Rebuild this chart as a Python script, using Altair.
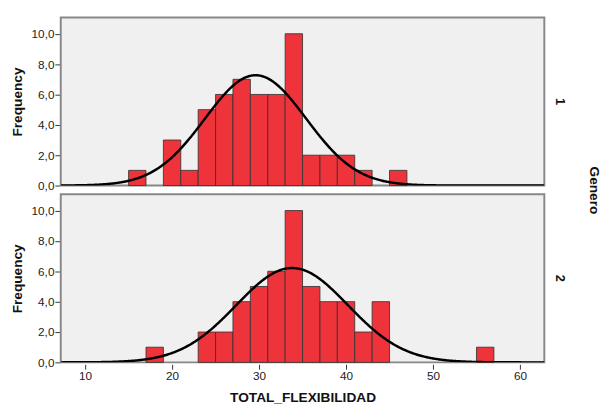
import altair as alt
import numpy as np
import pandas as pd

# Histogram bins (width 2)
genero_1_bins = [15, 19, 21, 23, 25, 27, 29, 31, 33, 35, 37, 39, 41, 45]
genero_1_counts = [1, 3, 1, 5, 6, 7, 6, 6, 10, 2, 2, 2, 1, 1]
genero_2_bins = [17, 23, 25, 27, 29, 31, 33, 35, 37, 39, 41, 43, 55]
genero_2_counts = [1, 2, 2, 4, 5, 6, 10, 5, 4, 4, 2, 4, 1]
bin_width = 2

# Normal curve parameters (mean, sd)
genero_1_norm = (29.6, 5.82)
genero_2_norm = (33.8, 6.42)

x_ticks = [10, 20, 30, 40, 50, 60]
y_ticks = [0, 2, 4, 6, 8, 10]
x_domain = [7.2, 62.8]
y_domain = [0, 11.07]

rows = []
for g, bins, counts, (m, s) in [
    ("1", genero_1_bins, genero_1_counts, genero_1_norm),
    ("2", genero_2_bins, genero_2_counts, genero_2_norm),
]:
    for b, c in zip(bins, counts):
        rows.append(dict(Genero=g, kind="bar", x=b, x2=b + bin_width, y=c))
    n = sum(counts)
    for xv in np.arange(x_domain[0], x_domain[1] + 0.01, 0.1):
        yv = n * bin_width * np.exp(-0.5 * ((xv - m) / s) ** 2) / (s * np.sqrt(2 * np.pi))
        rows.append(dict(Genero=g, kind="curve", x=float(xv), x2=None, y=float(yv)))
df = pd.DataFrame(rows)

xscale = alt.Scale(domain=x_domain, nice=False, zero=False)
yscale = alt.Scale(domain=y_domain, nice=False)

xaxis = alt.Axis(values=x_ticks, title="TOTAL_FLEXIBILIDAD", grid=False, domain=False,
                 tickSize=5, tickColor="#333333", labelFontSize=12, labelPadding=2,
                 labelColor="#222222", titleFontSize=14, titleFontWeight="bold",
                 titlePadding=9, titleColor="#111111", labelOverlap=False)
yaxis = alt.Axis(values=y_ticks, title="Frequency", grid=False, domain=False,
                 tickSize=5, tickColor="#333333", labelFontSize=12, labelPadding=1,
                 labelColor="#222222", labelOverlap=False,
                 labelExpr="replace(format(datum.value, '.1f'), '.', ',')",
                 titleFontSize=14, titleFontWeight="bold", titlePadding=7,
                 titleColor="#111111")

bars = alt.Chart().transform_filter(alt.datum.kind == "bar").mark_rect(
    fill="#EF333B", stroke="#333333", strokeWidth=1, strokeOpacity=0.85
).encode(
    x=alt.X("x:Q", scale=xscale, axis=xaxis),
    x2="x2:Q",
    y=alt.Y("y:Q", scale=yscale, axis=yaxis),
    y2=alt.datum(0),
)

curve = alt.Chart().transform_filter(alt.datum.kind == "curve").mark_line(
    color="#000000", strokeWidth=2.5, clip=True
).encode(
    x=alt.X("x:Q", scale=xscale, axis=xaxis),
    y=alt.Y("y:Q", scale=yscale, axis=yaxis),
    order="x:Q",
)

chart = alt.layer(bars, curve, data=df).properties(width=495, height=172).facet(
    row=alt.Row("Genero:N", header=alt.Header(
        title="Genero", labelOrient="right", titleOrient="right",
        labelAngle=90, titleAngle=90, labelFontSize=13, labelFontWeight="bold",
        labelPadding=8, titleFontSize=14, titleFontWeight="bold", titlePadding=12,
        labelColor="#111111", titleColor="#111111",
    )),
    spacing=6,
).properties(
    padding={"left": 2, "top": 4, "right": 0, "bottom": 0}
).configure(font="Liberation Sans").configure_view(
    fill="#F0F0F0", stroke="#888888", strokeWidth=2
).configure_facet(spacing=6).configure_axis(labelOverlap=False)

chart.save("out.html", embed_options={"renderer": "svg", "actions": False})
